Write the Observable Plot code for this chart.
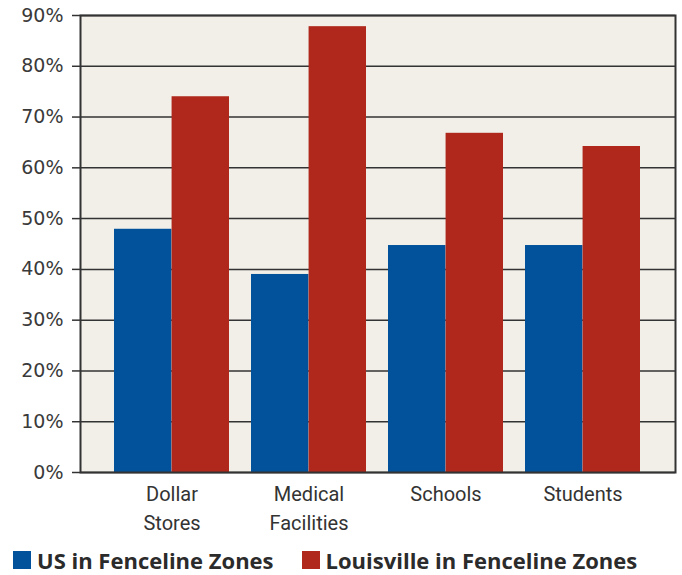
<!DOCTYPE html>
<html>
<head>
<meta charset="utf-8">
<script src="https://cdn.jsdelivr.net/npm/d3@7"></script>
<script src="https://cdn.jsdelivr.net/npm/@observablehq/plot@0.6"></script>
<style>
  html, body { margin: 0; padding: 0; background: #fff; }
  #chart svg { display: block; }
  .legend { display: flex; align-items: center; margin: 5px 0 0 13px; font-family: "Open Sans", sans-serif; font-weight: 700; font-size: 22px; color: #2b2b2b; }
  .legend .item { display: flex; align-items: center; margin-right: 28px; }
  .legend .sw { width: 18px; height: 18px; margin-right: 6px; }
</style>
</head>
<body>
<div id="chart"></div>
<script>
const categories = ["Dollar Stores", "Medical Facilities", "Schools", "Students"];
const categoryLabels = ["Dollar\nStores", "Medical\nFacilities", "Schools", "Students"];
const series = ["US in Fenceline Zones", "Louisville in Fenceline Zones"];
const usValues = [47.9, 39.0, 44.7, 44.7];
const louisvilleValues = [74.0, 87.8, 66.8, 64.2];
const yTicks = [0, 10, 20, 30, 40, 50, 60, 70, 80, 90];
const colors = ["#02529b", "#af281b"];

const data = [];
categories.forEach((c, i) => {
  data.push({category: c, series: series[0], value: usValues[i]});
  data.push({category: c, series: series[1], value: louisvilleValues[i]});
});

const width = 682, height = 540;
const marginLeft = 80, marginRight = 7, marginTop = 15, marginBottom = 68;
const paddingInner = 0.16, paddingOuter = 0.25;
const step = (width - marginLeft - marginRight) / (categories.length - paddingInner + 2 * paddingOuter);
const bw = step * (1 - paddingInner);
const labelOf = Object.fromEntries(categories.map((c, i) => [c, categoryLabels[i]]));

const chart = Plot.plot({
  width, height, marginLeft, marginRight, marginTop, marginBottom,
  style: {fontFamily: "DejaVu Sans, sans-serif", color: "#333", background: "#fff"},
  x: {domain: categories, paddingInner, paddingOuter, axis: null, label: null},
  y: {domain: [0, 90], axis: null, label: null},
  color: {domain: series, range: colors},
  marks: [
    Plot.frame({fill: "#f1efe8", stroke: null}),
    Plot.gridY(yTicks, {stroke: "#333", strokeOpacity: 1, strokeWidth: 1.5}),
    Plot.barY(data.filter(d => d.series === series[0]), {x: "category", y: "value", fill: "series", insetRight: bw / 2}),
    Plot.barY(data.filter(d => d.series === series[1]), {x: "category", y: "value", fill: "series", insetLeft: bw / 2}),
    Plot.frame({stroke: "#333", strokeWidth: 2}),
    Plot.axisY({ticks: yTicks, label: null, tickSize: 8, tickPadding: 9, tickFormat: d => d + "%", fontSize: 19, stroke: "#333", strokeWidth: 1.5, fill: "#3a3a3a"}),
    Plot.axisX({label: null, tickSize: 0, tickPadding: 8, tickFormat: d => labelOf[d], fontSize: 20, lineHeight: 1.45, fontFamily: "Roboto, sans-serif", fill: "#333"})
  ]
});
document.getElementById("chart").appendChild(chart);

const legend = document.createElement("div");
legend.className = "legend";
series.forEach((s, i) => {
  const item = document.createElement("div");
  item.className = "item";
  const sw = document.createElement("div");
  sw.className = "sw";
  sw.style.background = colors[i];
  const label = document.createElement("span");
  label.textContent = s;
  item.appendChild(sw);
  item.appendChild(label);
  legend.appendChild(item);
});
document.getElementById("chart").appendChild(legend);
</script>
</body>
</html>
